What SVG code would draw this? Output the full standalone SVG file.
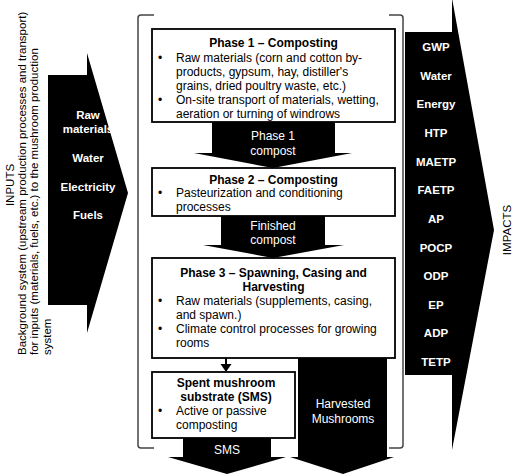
<svg xmlns="http://www.w3.org/2000/svg" width="515" height="474" viewBox="0 0 515 474">
<style>
.t{font-family:"Liberation Sans",Arial,sans-serif;font-size:12px;fill:#000}
.b{font-weight:bold}
.w{fill:#fff}
.c{text-anchor:middle}
.box{fill:#fff;stroke:#000;stroke-width:1.8}
.arr{fill:#000}
.br{fill:none;stroke:#444;stroke-width:1.5}
.side{font-family:"Liberation Sans",Arial,sans-serif;font-size:11.5px;fill:#000}
.lab{font-family:"Liberation Sans",Arial,sans-serif;font-size:11.5px;font-weight:bold;fill:#fff;text-anchor:middle}
</style>

<g id="inputs-label">
<text class="side c" transform="translate(13.5,185) rotate(-90)">INPUTS</text>
<text class="side" transform="translate(25.5,355) rotate(-90)">Background system (upstream production processes and transport)</text>
<text class="side" transform="translate(38,355) rotate(-90)">for inputs (materials, fuels, etc.) to the mushroom production</text>
<text class="side" transform="translate(50.5,355) rotate(-90)">system</text>
</g>

<g id="inputs-arrow">
<polygon class="arr" points="48,75 87,75 87,53 128,193 87,333 87,305 48,305"/>
<text class="lab" x="88" y="119">Raw</text>
<text class="lab" x="88" y="133">materials</text>
<text class="lab" x="88" y="162">Water</text>
<text class="lab" x="88" y="191">Electricity</text>
<text class="lab" x="88" y="219">Fuels</text>
</g>

<g id="system-bracket">
<path class="br" d="M154,15 L141,15 Q138,15 138,18 L138,445 Q138,448 141,448 L154,448"/>
<path class="br" d="M389,15 L400,15 Q403,15 403,18 L403,445 Q403,448 400,448 L389,448"/>
</g>

<g id="impacts-arrow">
<polygon class="arr" points="405,32 452,32 452,-2 494,230 452,450 452,375 405,375"/>
<text class="lab" x="436" y="51">GWP</text>
<text class="lab" x="436" y="79.6">Water</text>
<text class="lab" x="436" y="108.3">Energy</text>
<text class="lab" x="436" y="136.9">HTP</text>
<text class="lab" x="436" y="165.6">MAETP</text>
<text class="lab" x="436" y="194.2">FAETP</text>
<text class="lab" x="436" y="222.8">AP</text>
<text class="lab" x="436" y="251.5">POCP</text>
<text class="lab" x="436" y="280.1">ODP</text>
<text class="lab" x="436" y="308.7">EP</text>
<text class="lab" x="436" y="337.4">ADP</text>
<text class="lab" x="436" y="366">TETP</text>
<text class="side c" transform="translate(511,230) rotate(-90)">IMPACTS</text>
</g>

<g id="connectors">
<g id="phase1-compost">
<polygon class="arr" points="212,122 335,122 335,153 352,153 273,168 194,153 212,153"/>
<text class="t w c" x="273" y="140">Phase 1</text>
<text class="t w c" x="273" y="155">compost</text>
</g>
<g id="finished-compost">
<polygon class="arr" points="221,216 325,216 325,245 344,245 273,258 203,245 221,245"/>
<text class="t w c" x="273" y="230">Finished</text>
<text class="t w c" x="273" y="244">compost</text>
</g>
<g id="to-sms">
<line x1="226" y1="358" x2="226" y2="366" stroke="#000" stroke-width="2"/>
<polygon class="arr" points="220.5,364 231.5,364 226,372"/>
</g>
<g id="sms-out">
<polygon class="arr" points="183,437 271,437 271,457 286,457 227,474 168,457 183,457"/>
<text class="t w c" x="227" y="454">SMS</text>
</g>
<g id="harvested">
<polygon class="arr" points="298,358 387,358 387,457 394,457 343,474 290,457 298,457"/>
<text class="t w c" x="343" y="408">Harvested</text>
<text class="t w c" x="343" y="423">Mushrooms</text>
</g>
</g>

<g id="phase1">
<rect class="box" x="152" y="29" width="243" height="93"/>
<text class="t b c" x="273.5" y="47">Phase 1 – Composting</text>
<text class="t" x="158" y="61.5">•</text>
<text class="t" x="176" y="61.5">Raw materials (corn and cotton by-</text>
<text class="t" x="176" y="75.5">products, gypsum, hay, distiller's</text>
<text class="t" x="176" y="89.5">grains, dried poultry waste, etc.)</text>
<text class="t" x="158" y="103.5">•</text>
<text class="t" x="176" y="103.5">On-site transport of materials, wetting,</text>
<text class="t" x="176" y="117.5">aeration or turning of windrows</text>
</g>

<g id="phase2">
<rect class="box" x="152" y="168" width="243" height="48"/>
<text class="t b c" x="273.5" y="183.5">Phase 2 – Composting</text>
<text class="t" x="158" y="197">•</text>
<text class="t" x="176" y="197">Pasteurization and conditioning</text>
<text class="t" x="176" y="211">processes</text>
</g>

<g id="phase3">
<rect class="box" x="152" y="258" width="243" height="100"/>
<text class="t b c" x="273.5" y="277">Phase 3 – Spawning, Casing and</text>
<text class="t b c" x="273.5" y="291">Harvesting</text>
<text class="t" x="158" y="305">•</text>
<text class="t" x="176" y="305">Raw materials (supplements, casing,</text>
<text class="t" x="176" y="319">and spawn.)</text>
<text class="t" x="158" y="333">•</text>
<text class="t" x="176" y="333">Climate control processes for growing</text>
<text class="t" x="176" y="347">rooms</text>
</g>

<g id="sms">
<rect class="box" x="152" y="372" width="143" height="66"/>
<text class="t b c" x="226" y="387">Spent mushroom</text>
<text class="t b c" x="226" y="401">substrate (SMS)</text>
<text class="t" x="158" y="415">•</text>
<text class="t" x="176" y="415">Active or passive</text>
<text class="t" x="176" y="429">composting</text>
</g>
</svg>
